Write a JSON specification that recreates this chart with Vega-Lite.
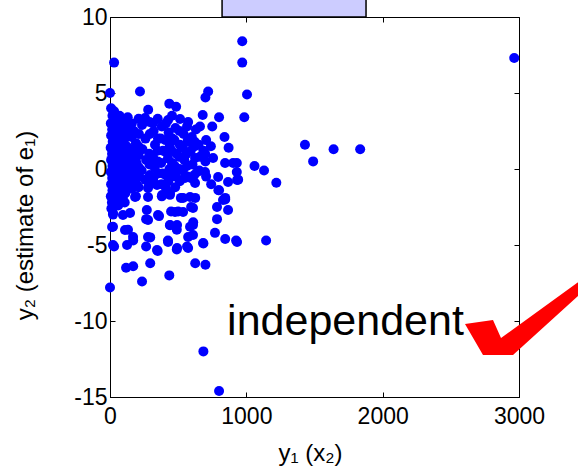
{
  "$schema": "https://vega.github.io/schema/vega-lite/v6.json",
  "width": 409,
  "height": 380,
  "autosize": {"type": "none"},
  "padding": {"left": 110, "top": 17, "right": 59, "bottom": 78},
  "background": "white",
  "config": {
    "view": {"stroke": "black", "strokeWidth": 1},
    "font": "Liberation Sans",
    "axis": {"grid": false, "domainColor": "black", "tickColor": "black", "labelColor": "black", "titleColor": "black", "labelFont": "Liberation Sans", "titleFont": "Liberation Sans", "labelFontSize": 23, "titleFontSize": 24, "titleFontWeight": "normal", "tickSize": -5, "domainWidth": 1, "tickWidth": 1, "labelFlush": false}
  },
  "resolve": {"axis": {"x": "independent", "y": "independent"}},
  "layer": [
    {
      "data": {"values": [{"x": 822, "x2": 1878, "y": 10, "y2": 12}]},
      "mark": {"type": "rect", "fill": "#CCCCFF", "stroke": "black", "strokeWidth": 1.5, "clip": false},
      "encoding": {
        "x": {"field": "x", "type": "quantitative", "scale": {"domain": [0, 3000], "nice": false}, "axis": null},
        "x2": {"field": "x2"},
        "y": {"field": "y", "type": "quantitative", "scale": {"domain": [-15, 10], "nice": false}, "axis": null},
        "y2": {"field": "y2"}
      }
    },
    {
      "data": {"values": [
        {"x":30,"y":7.0},{"x":0,"y":5.0},{"x":220,"y":5.1},{"x":970,"y":8.4},{"x":970,"y":7.0},{"x":1005,"y":4.9},{"x":985,"y":3.4},{"x":720,"y":5.1},{"x":700,"y":4.7},{"x":435,"y":4.3},{"x":485,"y":4.1},{"x":280,"y":3.9},{"x":130,"y":3.4},{"x":25,"y":3.75},{"x":680,"y":3.55},{"x":800,"y":3.4},{"x":750,"y":2.8},{"x":660,"y":2.8},{"x":840,"y":2.1},{"x":705,"y":1.9},{"x":870,"y":1.4},{"x":685,"y":1.2},{"x":1060,"y":0.2},{"x":1130,"y":-0.1},{"x":1220,"y":-0.9},{"x":930,"y":0.4},{"x":940,"y":-0.7},{"x":800,"y":-1.4},{"x":845,"y":-1.9},{"x":2965,"y":7.3},{"x":1430,"y":1.6},{"x":1490,"y":0.5},{"x":1640,"y":1.3},{"x":1835,"y":1.3},
        {"x":0,"y":-7.8},{"x":685,"y":-12.0},{"x":800,"y":-14.6},{"x":235,"y":-7.4},{"x":435,"y":-7.0},{"x":118,"y":-6.5},{"x":170,"y":-6.4},{"x":295,"y":-6.2},{"x":625,"y":-6.2},{"x":700,"y":-6.3},
        {"x":30,"y":-5.1},{"x":125,"y":-5.0},{"x":170,"y":-4.7},{"x":265,"y":-5.1},{"x":350,"y":-5.4},{"x":425,"y":-4.7},{"x":490,"y":-5.3},{"x":565,"y":-5.1},{"x":685,"y":-4.9},{"x":770,"y":-4.2},{"x":845,"y":-4.6},{"x":925,"y":-4.7},{"x":1145,"y":-4.7},{"x":295,"y":-4.5},{"x":22,"y":-3.8},{"x":132,"y":-4.0},{"x":360,"y":-3.1},{"x":448,"y":-2.8},{"x":500,"y":-2.8},{"x":440,"y":-3.7},{"x":490,"y":-4.0},{"x":587,"y":-3.8},{"x":610,"y":-3.5},{"x":785,"y":-3.3},{"x":785,"y":-2.5},{"x":866,"y":-2.7},{"x":845,"y":-2.0},{"x":595,"y":-2.5},{"x":520,"y":-1.9},{"x":625,"y":-1.9},{"x":440,"y":-1.7},{"x":380,"y":-1.8},{"x":265,"y":-3.3},{"x":190,"y":-1.8},{"x":270,"y":-2.7},{"x":147,"y":-2.9},{"x":22,"y":-3.0},{"x":795,"y":-1.4},{"x":930,"y":-0.2},
        {"x":756,"y":0.72},{"x":844,"y":0.39},{"x":903,"y":0.39},{"x":624,"y":0.72},{"x":630,"y":2.6},
        {"x":829,"y":-2.04},{"x":609,"y":-2.57},{"x":609,"y":-3.68},{"x":609,"y":-4.34},{"x":932,"y":-4.8},{"x":683,"y":-4.87},{"x":640,"y":-0.2},{"x":697,"y":-0.2},{"x":793,"y":-0.53},{"x":866,"y":-0.86},{"x":932,"y":-0.72},{"x":624,"y":-0.92},
        {"x":426,"y":3.22},{"x":514,"y":3.29},{"x":573,"y":3.09},{"x":257,"y":3.36},{"x":316,"y":3.03},
        {"x":184,"y":-1.84},{"x":279,"y":-1.84},{"x":382,"y":-1.71},{"x":440,"y":-1.58},{"x":536,"y":-1.91},{"x":587,"y":-1.84},{"x":477,"y":-2.83},{"x":536,"y":-2.83},{"x":352,"y":-3.03},{"x":279,"y":-3.36},{"x":440,"y":-3.68},{"x":492,"y":-3.68},{"x":22,"y":-2.89},{"x":95,"y":-3.03},{"x":15,"y":-3.82},{"x":110,"y":-4.01},{"x":169,"y":-4.47},{"x":279,"y":-4.47},{"x":426,"y":-4.8},{"x":573,"y":-4.47},{"x":492,"y":-5.2},{"x":573,"y":-5.2},{"x":22,"y":-5.0},{"x":345,"y":-5.33},{"x":198,"y":-1.05},{"x":279,"y":-1.25},{"x":345,"y":-1.05},{"x":550,"y":-0.59},
        {"x":8,"y":4.0},{"x":18,"y":3.5},{"x":6,"y":3.0},{"x":16,"y":2.6},{"x":8,"y":2.2},{"x":20,"y":1.8},{"x":5,"y":1.4},{"x":15,"y":1.0},{"x":8,"y":0.6},{"x":18,"y":0.2},{"x":6,"y":-0.2},{"x":16,"y":-0.6},{"x":8,"y":-1.0},{"x":18,"y":-1.4},{"x":6,"y":-1.8},{"x":14,"y":-2.2},{"x":10,"y":-2.6},
        {"x":45,"y":3.2},{"x":55,"y":2.7},{"x":42,"y":2.1},{"x":58,"y":1.6},{"x":46,"y":1.1},{"x":52,"y":0.5},{"x":40,"y":0.0},{"x":56,"y":-0.5},{"x":44,"y":-1.0},{"x":54,"y":-1.6},{"x":48,"y":-2.1},{"x":60,"y":-2.4},
        {"x":85,"y":3.0},{"x":95,"y":2.4},{"x":82,"y":1.8},{"x":100,"y":1.3},{"x":88,"y":0.7},{"x":96,"y":0.2},{"x":84,"y":-0.3},{"x":98,"y":-0.8},{"x":86,"y":-1.3},{"x":94,"y":-1.9},
        {"x":125,"y":2.8},{"x":140,"y":2.2},{"x":122,"y":1.5},{"x":145,"y":0.9},{"x":128,"y":0.3},{"x":140,"y":-0.2},{"x":124,"y":-0.7},{"x":148,"y":-1.2},
        {"x":175,"y":2.5},{"x":190,"y":1.7},{"x":172,"y":1.0},{"x":195,"y":0.4},{"x":178,"y":-0.4},{"x":192,"y":-1.0},
        {"x":235,"y":2.9},{"x":260,"y":2.0},{"x":238,"y":1.3},{"x":265,"y":0.6},{"x":232,"y":-0.1},{"x":258,"y":-0.7},
        {"x":320,"y":2.5},{"x":330,"y":1.6},{"x":315,"y":0.8},{"x":328,"y":0.1},{"x":318,"y":-0.6},
        {"x":380,"y":2.8},{"x":372,"y":2.0},{"x":388,"y":1.2},{"x":375,"y":0.4},{"x":385,"y":-0.3},{"x":378,"y":-1.0},
        {"x":430,"y":2.4},{"x":438,"y":1.5},{"x":425,"y":0.7},{"x":436,"y":0.0},{"x":428,"y":-0.8},
        {"x":480,"y":2.7},{"x":472,"y":1.9},{"x":488,"y":1.0},{"x":475,"y":0.2},{"x":485,"y":-0.5},{"x":478,"y":-1.2},
        {"x":540,"y":2.3},{"x":532,"y":1.4},{"x":545,"y":0.6},{"x":535,"y":-0.1},
        {"x":600,"y":2.1},{"x":592,"y":1.2},{"x":605,"y":0.3},{"x":596,"y":-0.6},
        {"x":650,"y":1.6},{"x":660,"y":0.8},{"x":655,"y":-0.1},
        {"x":30,"y":3.8},{"x":28,"y":3.3},{"x":32,"y":2.9},{"x":30,"y":2.4},{"x":28,"y":1.9},{"x":32,"y":1.3},{"x":30,"y":0.8},{"x":28,"y":0.3},{"x":32,"y":-0.3},{"x":30,"y":-0.8},{"x":28,"y":-1.3},{"x":32,"y":-1.9},{"x":30,"y":-2.4},
        {"x":70,"y":3.5},{"x":68,"y":2.9},{"x":72,"y":2.3},{"x":70,"y":1.7},{"x":68,"y":1.0},{"x":72,"y":0.4},{"x":70,"y":-0.1},{"x":68,"y":-0.6},{"x":72,"y":-1.1},{"x":70,"y":-1.7},{"x":68,"y":-2.2},
        {"x":110,"y":3.2},{"x":112,"y":2.6},{"x":108,"y":2.0},{"x":110,"y":1.1},{"x":112,"y":0.5},{"x":108,"y":-0.4},{"x":110,"y":-1.0},{"x":112,"y":-1.6},{"x":108,"y":-2.2},
        {"x":160,"y":3.0},{"x":158,"y":2.1},{"x":162,"y":1.3},{"x":160,"y":0.7},{"x":158,"y":0.0},{"x":162,"y":-0.7},{"x":160,"y":-1.3},
        {"x":210,"y":3.3},{"x":212,"y":2.3},{"x":208,"y":1.5},{"x":210,"y":0.9},{"x":212,"y":0.1},{"x":208,"y":-0.5},{"x":210,"y":-1.2},
        {"x":290,"y":3.1},{"x":292,"y":2.3},{"x":288,"y":1.0},{"x":290,"y":0.3},{"x":292,"y":-0.4},{"x":288,"y":-1.0},
        {"x":350,"y":3.3},{"x":352,"y":2.0},{"x":348,"y":1.2},{"x":350,"y":0.5},{"x":352,"y":-0.3},
        {"x":410,"y":3.0},{"x":408,"y":1.9},{"x":412,"y":1.1},{"x":410,"y":-0.4},{"x":408,"y":-1.2},
        {"x":455,"y":3.5},{"x":458,"y":2.0},{"x":452,"y":1.2},{"x":455,"y":0.4},{"x":458,"y":-0.3},
        {"x":510,"y":2.5},{"x":512,"y":1.6},{"x":508,"y":0.8},{"x":510,"y":0.0},{"x":512,"y":-0.8},
        {"x":565,"y":2.8},{"x":568,"y":1.8},{"x":562,"y":1.0},{"x":565,"y":0.2},{"x":568,"y":-0.5},
        {"x":620,"y":1.8},{"x":622,"y":1.5},{"x":618,"y":-0.4},
        {"x":700,"y":0.5},{"x":705,"y":-0.5},{"x":698,"y":1.0},
        {"x":740,"y":1.5},{"x":742,"y":-1.0}
      ]},
      "mark": {"type": "point", "shape": "circle", "filled": true, "fill": "#0000FF", "opacity": 1, "size": 100, "strokeWidth": 0, "clip": false},
      "encoding": {
        "x": {"field": "x", "type": "quantitative", "scale": {"domain": [0, 3000], "nice": false},
          "axis": {"orient": "bottom", "values": [0, 1000, 2000, 3000], "labelExpr": "'' + datum.value", "labelPadding": 13, "title": "y₁ (x₂)", "titleBaseline": "alphabetic", "titleX": 200, "titleY": 63, "titleAlign": "center"}},
        "y": {"field": "y", "type": "quantitative", "scale": {"domain": [-15, 10], "nice": false},
          "axis": {"orient": "left", "values": [-15, -10, -5, 0, 5, 10], "labelExpr": "'' + datum.value", "labelPadding": 8, "title": "y₂ (estimate of e₁)", "titleBaseline": "alphabetic", "titleX": -78, "titleY": 208, "titleAngle": -90, "titleAlign": "center"}}
      }
    },
    {
      "data": {"values": [{"x": 859, "y": -10.92, "t": "independent"}]},
      "mark": {"type": "text", "align": "left", "baseline": "alphabetic", "fontSize": 43, "font": "Liberation Sans", "color": "black", "clip": false},
      "encoding": {
        "x": {"field": "x", "type": "quantitative", "scale": {"domain": [0, 3000], "nice": false}, "axis": null},
        "y": {"field": "y", "type": "quantitative", "scale": {"domain": [-15, 10], "nice": false}, "axis": null},
        "text": {"field": "t"}
      }
    },
    {
      "data": {"values": [{"x": 3000, "y": -10}]},
      "mark": {"type": "point", "shape": "M-54,3 L-26,-1 L-18,17 L80,-54 L80,-44 L-6,34 L-36,34 Z", "filled": true, "fill": "#FF0000", "opacity": 1, "size": 4, "strokeWidth": 0, "clip": false},
      "encoding": {
        "x": {"field": "x", "type": "quantitative", "scale": {"domain": [0, 3000], "nice": false},
          "axis": {"orient": "top", "values": [0, 1000, 2000, 3000], "labels": false, "title": null, "domain": false}},
        "y": {"field": "y", "type": "quantitative", "scale": {"domain": [-15, 10], "nice": false},
          "axis": {"orient": "right", "values": [-15, -10, -5, 0, 5, 10], "labels": false, "title": null, "domain": false}}
      }
    }
  ]
}
